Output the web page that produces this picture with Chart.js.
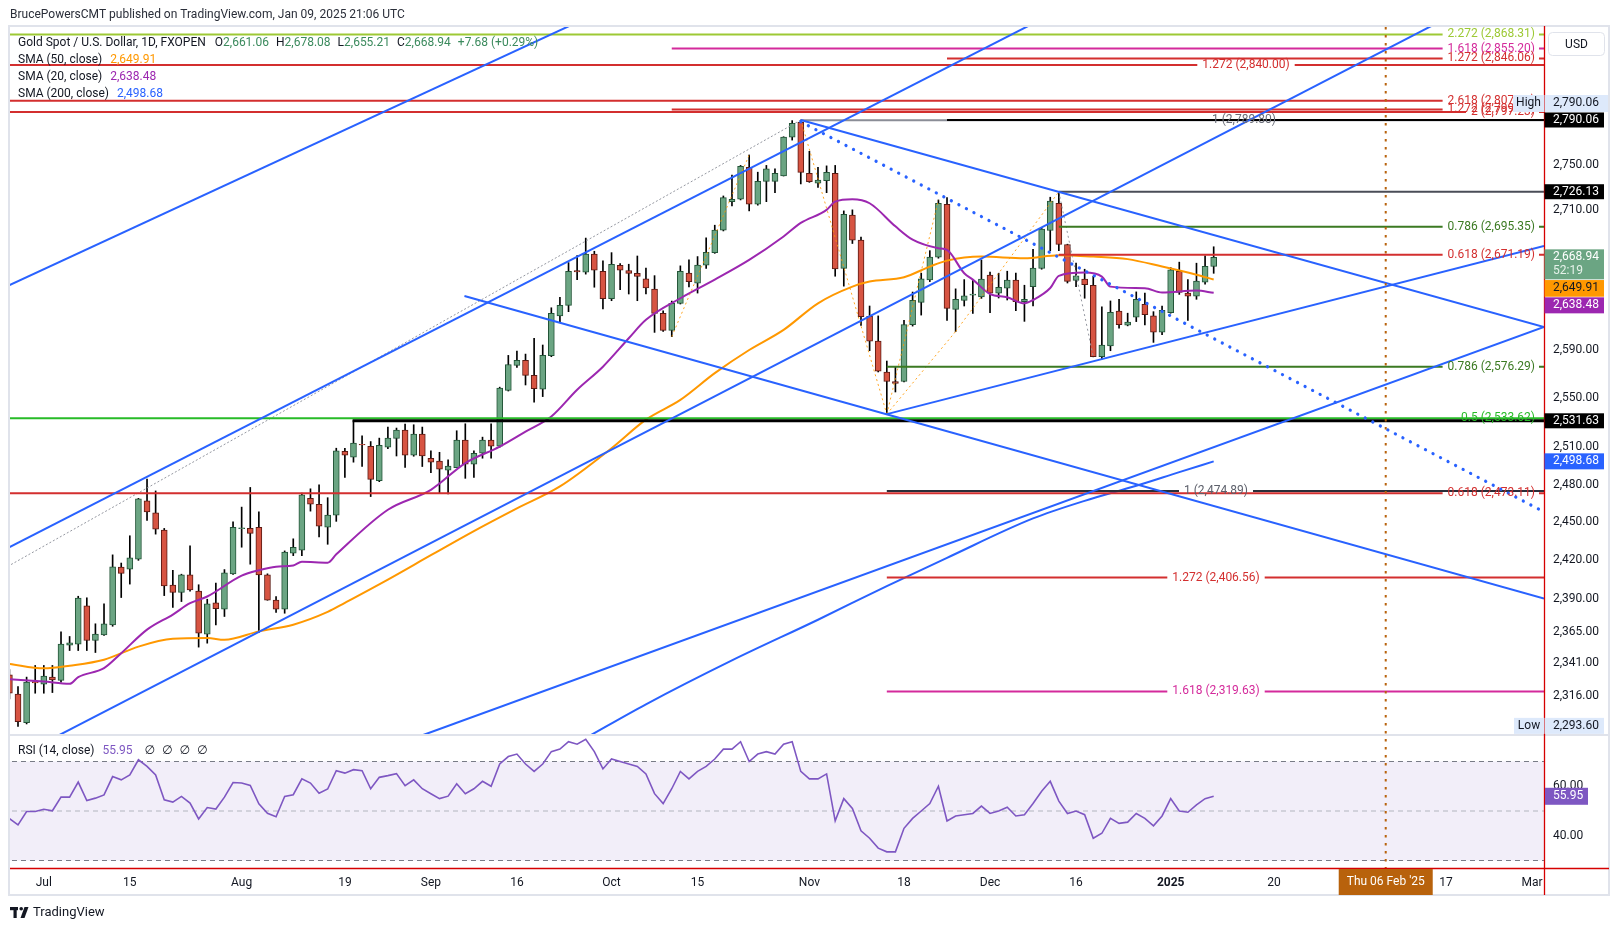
<!DOCTYPE html>
<html>
<head>
<meta charset="utf-8">
<title>Gold Spot / U.S. Dollar</title>
<script src="https://cdn.jsdelivr.net/npm/chart.js@4.4.1/dist/chart.umd.min.js"></script>
<style>
html,body{margin:0;padding:0;background:#ffffff;overflow:hidden;}
#c{display:block;}
</style>
</head>
<body>
<canvas id="c" width="1620" height="931"></canvas>
<script>
// ---------------- DATA ----------------
// bar index 0 = 1 Jul 2024 (trading days only)
const firstBar = -4;
const opens = [2332.1,2317.6,2296.4,2327.0,2325.1,2330.4,2327.9,2354.6,2355.4,2384.7,2358.1,2362.3,2370.0,2414.7,2413.2,2421.0,2466.9,2457.4,2443.8,2400.8,2395.0,2408.7,2396.1,2363.0,2387.0,2382.2,2409.5,2445.0,2445.1,2446.0,2408.7,2389.1,2382.2,2425.6,2428.0,2469.0,2464.3,2446.0,2455.6,2506.8,2502.0,2512.5,2510.9,2483.1,2510.1,2517.2,2524.1,2503.6,2520.8,2501.2,2498.8,2491.6,2493.6,2515.9,2496.4,2505.2,2515.9,2510.9,2556.7,2577.3,2581.5,2569.0,2557.6,2585.4,2619.0,2627.9,2657.5,2656.2,2671.8,2657.0,2633.5,2662.1,2657.6,2655.1,2650.4,2641.8,2621.0,2606.7,2629.6,2655.3,2646.7,2662.2,2673.0,2692.5,2717.4,2719.5,2747.6,2715.1,2735.2,2735.2,2740.2,2774.6,2788.0,2742.3,2733.7,2735.8,2742.3,2659.5,2705.6,2683.8,2618.6,2597.7,2571.7,2564.0,2564.0,2611.5,2630.4,2649.5,2669.1,2715.1,2624.5,2632.1,2636.5,2635.1,2653.6,2638.2,2642.4,2649.3,2631.0,2643.8,2659.3,2692.2,2716.0,2680.0,2649.2,2650.2,2645.0,2584.7,2593.6,2622.9,2611.0,2617.8,2628.8,2618.9,2605.2,2621.7,2657.0,2638.2,2635.6,2647.6,2661.06];
const highs = [2336.0,2323.3,2330.4,2339.2,2339.2,2339.2,2364.8,2361.2,2392.1,2390.9,2370.9,2386.2,2424.3,2417.9,2439.3,2469.0,2484.3,2474.9,2445.1,2412.3,2409.2,2431.4,2401.0,2389.8,2402.3,2412.8,2450.3,2462.0,2477.7,2458.2,2409.5,2391.9,2427.4,2436.9,2473.1,2476.6,2479.8,2469.5,2509.3,2509.3,2531.9,2519.4,2514.7,2517.5,2526.5,2525.7,2529.0,2528.4,2526.5,2507.1,2506.0,2499.8,2523.5,2529.2,2507.1,2518.3,2529.2,2559.3,2585.7,2589.4,2586.8,2600.1,2594.4,2625.8,2634.7,2664.4,2670.4,2685.6,2674.2,2665.9,2673.0,2663.6,2663.0,2670.1,2659.6,2653.2,2623.3,2631.5,2661.6,2666.7,2669.6,2685.9,2696.8,2722.4,2740.8,2749.4,2758.7,2743.4,2749.4,2746.4,2775.0,2789.5,2790.06,2762.0,2747.6,2749.0,2749.4,2709.3,2710.2,2686.4,2627.3,2618.9,2581.0,2576.0,2615.2,2639.2,2655.3,2674.7,2718.9,2721.0,2641.9,2649.8,2649.8,2666.7,2656.2,2655.3,2657.0,2655.3,2645.0,2675.9,2694.8,2721.3,2726.13,2680.3,2663.9,2658.7,2652.7,2626.7,2631.6,2633.0,2621.2,2639.3,2638.2,2622.5,2627.3,2660.1,2664.8,2649.8,2663.9,2670.2,2678.08];
const lows = [2314.0,2293.6,2295.4,2318.3,2318.3,2318.8,2326.6,2350.5,2350.5,2350.5,2349.0,2362.0,2369.0,2391.1,2401.5,2420.0,2451.5,2440.6,2392.6,2383.4,2388.0,2396.0,2353.1,2356.1,2370.0,2376.5,2409.0,2430.3,2417.0,2364.3,2389.0,2379.7,2379.0,2423.7,2423.7,2458.8,2438.3,2432.6,2450.7,2485.8,2498.0,2494.5,2470.4,2482.3,2509.0,2503.0,2493.7,2502.8,2494.5,2489.5,2473.1,2472.5,2493.6,2485.0,2485.8,2501.2,2501.2,2510.1,2556.1,2575.7,2561.1,2546.9,2551.5,2584.6,2614.1,2622.5,2649.8,2654.5,2643.3,2624.8,2631.8,2641.2,2637.5,2631.8,2637.5,2605.0,2605.8,2601.4,2629.0,2643.6,2638.3,2659.3,2672.4,2691.8,2713.6,2718.9,2709.3,2714.3,2717.4,2725.3,2740.0,2772.0,2733.0,2734.4,2730.0,2725.3,2652.7,2644.2,2680.9,2610.9,2589.6,2571.9,2537.1,2555.3,2563.7,2610.3,2619.6,2648.1,2668.2,2615.1,2605.7,2627.3,2621.0,2633.8,2621.7,2634.1,2632.4,2623.4,2614.3,2627.3,2658.7,2674.7,2674.7,2646.9,2643.8,2633.9,2584.5,2582.5,2589.6,2608.6,2610.5,2614.1,2611.3,2596.6,2603.1,2621.2,2637.2,2615.0,2633.0,2645.9,2655.21];
const closes = [2318.3,2297.1,2326.6,2326.0,2331.1,2328.2,2355.4,2356.4,2390.6,2358.1,2363.0,2370.9,2415.0,2409.8,2422.0,2468.5,2458.2,2444.5,2400.0,2395.0,2408.7,2396.9,2363.8,2386.2,2382.6,2410.3,2446.0,2445.6,2441.2,2408.7,2389.1,2382.2,2426.4,2430.3,2471.7,2464.3,2446.8,2455.6,2507.1,2503.6,2513.4,2512.0,2484.2,2511.7,2517.5,2524.1,2503.6,2520.8,2503.0,2498.0,2492.4,2494.8,2515.9,2496.4,2505.2,2515.9,2510.9,2558.5,2578.1,2581.5,2569.0,2558.1,2585.7,2621.0,2627.9,2657.0,2656.5,2671.8,2657.9,2633.5,2663.0,2657.9,2655.1,2652.5,2642.7,2621.0,2606.7,2629.6,2657.0,2648.1,2662.2,2673.3,2692.5,2720.9,2719.5,2748.5,2715.1,2735.2,2746.4,2742.3,2774.6,2787.1,2743.2,2734.9,2736.3,2743.2,2659.0,2706.4,2683.8,2618.3,2597.7,2572.5,2564.0,2562.3,2611.5,2632.1,2650.4,2669.1,2716.0,2625.3,2633.0,2636.0,2637.5,2650.2,2638.2,2643.3,2649.3,2631.0,2633.0,2659.6,2693.4,2717.8,2680.0,2648.3,2653.0,2645.5,2584.7,2594.3,2622.0,2611.6,2613.6,2633.0,2620.0,2605.2,2623.7,2658.1,2638.9,2635.6,2648.5,2661.26,2668.94];
const rsiValues = [47.0,44.4,49.8,49.8,50.7,50.1,55.6,55.6,61.7,54.2,55.2,56.5,63.9,62.6,64.6,70.7,68.0,64.6,54.5,53.6,55.9,53.2,46.8,51.4,50.8,55.6,61.5,61.3,60.3,52.9,49.1,47.7,55.9,56.6,63.0,61.3,57.2,58.9,66.3,65.3,66.7,66.3,59.0,63.6,64.3,65.1,60.2,62.6,
59,57,55,56,61,57,59,62,60,69,72,73,69,66,69,74,75,78,77,79,74,67,71,70,69,68,65,57,53,59,66,63,66,68,71,75,75,78,70,73,74,73,77,78,66,63,63,65,46,55,51,42,39,35,33.5,33.5,43,47,50,53,60,46,48,48.5,49,52,49,50,51.5,48,48.5,53,58,62,54,49,50,48.5,39,41,47,45,45.5,49,47,44,48,55,50,49.5,52.5,55,55.95];

const sma20Idx = [-4,0,3,4,7,9,12,15,17,19,23,25,27,29,30,33,34,40,45,49,53,56,59,62,65,68,70,74,78,82,86,88,91,92,94,96,99,101,104,105,107,108,110,112,114,115,117,118,121,123,124,128,130,134,136];
const sma20Val = [2328.9,2327.1,2325.4,2330.4,2337.2,2348.5,2366.4,2378,2386.7,2391.9,2408.1,2412.3,2415,2416,2418.9,2418.2,2424.7,2459.9,2475.8,2497.3,2510.6,2522.8,2535.2,2557.2,2576.3,2600.1,2615.6,2633.9,2649.8,2666.7,2687,2698.8,2710.2,2717.4,2719.5,2716,2695.8,2684.2,2676.8,2675.3,2655.3,2649.8,2637.5,2634.7,2629.6,2632.4,2642.6,2653,2655.8,2652.4,2643.8,2642.4,2638.7,2640.4,2638.48];
const sma50Idx = [-4,0,3,7,11,15,19,21,25,29,33,35,40,45,50,55,60,66,70,74,78,82,86,90,94,96,100,103,105,109,114,118,122,126,130,134,136];
const sma50Val = [2340.4,2337,2339,2343.5,2353.5,2359.4,2360,2358.7,2365.1,2370.2,2380,2387,2405,2424,2443,2461,2478.5,2509.3,2532.6,2548.8,2570.9,2590.2,2607.1,2629.6,2643.8,2648.1,2651.9,2661,2666.1,2669.6,2668.2,2670.8,2669.6,2667.4,2661,2654,2649.91];
const sma200Idx = [63,70,80,90,98,105,115,121,127,132,136];
const sma200Val = [2285,2310,2343,2374,2400,2422,2453,2467,2479,2490,2498.68];

// Drawn trend lines: [bar index, price] at both ends
const trendX1 = [-3.98,-3.98,-3.98,48.9,44.1,88,98];
const trendP1 = [2645.1,2430.3,2268.3,2635.8,2287.2,2790.06,2537.1];
const trendX2 = [66.95,122.8,169.3,174.4,174.4,174.4,174.4];
const trendP2 = [2897.9,2910.5,2909.3,2390.3,2609.6,2609.6,2678.8];
const dottedX = [88,174.4], dottedP = [2788.5,2458.2];
const fibConnX = [-4.21,88], fibConnP = [2415.2,2790.06];
const zigX1 = [73,88,98,98,106], zigP1 = [2601.4,2790.06,2537.1,2537.1,2605.7];
const zigX2 = [82,98,104,106,118], zigP2 = [2758.7,2537.1,2718.9,2605.7,2726.13];
const grayZigX = [118,122], grayZigP = [2726.13,2584.5];

// Fibonacci levels
const fibValues = [2868.31,2855.20,2846.06,2840.00,2807.38,2799.60,2797.23,2789.80,2695.35,2671.19,2576.29,2533.62,2474.89,2473.11,2406.56,2319.63];
const fibLabels = ['2.272 (2,868.31)','1.618 (2,855.20)','1.272 (2,846.06)','1.272 (2,840.00)','2.618 (2,807.38)','1.272 (2,799.60)','2 (2,797.23)','1 (2,789.80)','0.786 (2,695.35)','0.618 (2,671.19)','0.786 (2,576.29)','0.5 (2,533.62)','1 (2,474.89)','0.618 (2,473.11)','1.272 (2,406.56)','1.618 (2,319.63)'];
const fibStartIdx = [-10,73,105,-10,-10,73,-10,88,118,118,98,-10,98,-10,98,98];
// plain horizontal levels
const levelValues = [2790.06,2726.13,2531.63];
const levelStartIdx = [105,118,35.9];

const xTickIdx = [0,10,23,35,45,55,66,76,89,100,110,120,131,143,163,173];
const xTickLabels = ['Jul','15','Aug','19','Sep','16','Oct','15','Nov','18','Dec','16','2025','20','17','Mar'];
const priceTicks = [2750,2710,2590,2550,2510,2480,2450,2420,2390,2365,2341,2316];
const rsiTicks = [60,40];
const markerIdx = 156, markerLabel = "Thu 06 Feb '25";

// ---------------- STYLE ----------------
const FONT = "Roboto, 'Liberation Sans', 'DejaVu Sans', sans-serif";
const F12 = '12px ' + FONT;
Chart.defaults.font.family = FONT;
Chart.defaults.font.size = 12;
Chart.defaults.color = '#131722';
const X_MIN = -3.93, X_MAX = 174.4;
const PRICE_MIN = 2191.0, PRICE_MAX = 2876.1;
const RSI_MIN = 26.97, RSI_MAX = 367.2;
const UP = '#6ba583', UP_B = '#225437', DN = '#d75442', DN_B = '#5b1a13';
const BLUE = '#2962ff', RED = '#d32f2f', MAG = '#d42a9b', LIME = '#9dc935', DKGREEN = '#3b7a22', GREEN = '#27bb27', DARK = '#131722';
const LABEL_RIGHT = 1535;
const fibStyle = [
  {c:LIME},{c:MAG},{c:RED},{c:RED,center:1246},{c:RED},{c:RED},{c:RED},
  {c:'#6a6d78',line:'#8a8d96',center:1244,noGap:true},
  {c:DKGREEN},{c:RED},{c:DKGREEN},{c:GREEN,noGap:true},
  {c:'#5d606b',line:'#2a2e39',center:1216},{c:RED},{c:RED,center:1216},{c:MAG,center:1216}
];
const levelStyle = [{c:'#000000',w:2},{c:'#4a4d57',w:2},{c:'#000000',w:3}];

const PRICE_CLIP = {left:0, top:0, right:0, bottom:-133};
const RSI_CLIP = {left:0, top:-709, right:0, bottom:0};

const barX = k => firstBar + k;
const isUp = k => closes[k] >= opens[k];
const fmt = v => v.toLocaleString('en-US',{minimumFractionDigits:2, maximumFractionDigits:2});
const mctx = document.createElement('canvas').getContext('2d');
mctx.font = F12;
const pxToIdx = px => X_MIN + (px - 10) * (X_MAX - X_MIN) / 1534;

function lineDS(data, color, width, extra) {
  return Object.assign({type:'line', data, borderColor:color, borderWidth:width, pointRadius:0, fill:false,
    yAxisID:'y', clip:PRICE_CLIP, order:20, tension:0, spanGaps:false}, extra || {});
}
function rsiDS(data, color, width, extra) {
  return Object.assign({type:'line', data, borderColor:color, borderWidth:width, pointRadius:0, fill:false,
    yAxisID:'yRsi', clip:RSI_CLIP, order:70, tension:0}, extra || {});
}
function fibData(k) {
  const p = fibValues[k], st = fibStyle[k];
  const w = mctx.measureText(fibLabels[k]).width;
  const pts = [{x:fibStartIdx[k], y:p}];
  if (!st.noGap) {
    let l, r;
    if (st.center != null) { l = st.center - w/2 - 5; r = st.center + w/2 + 5; }
    else { l = LABEL_RIGHT - w - 5; r = LABEL_RIGHT + 4; }
    pts.push({x:pxToIdx(l), y:p}, {x:pxToIdx(l), y:null}, {x:pxToIdx(r), y:p});
  }
  pts.push({x:X_MAX + 2, y:p});
  return pts;
}

const datasets = [];
// RSI pane
datasets.push(rsiDS([{x:X_MIN-5,y:70},{x:X_MAX+5,y:70}], '#787b86', 1, {borderDash:[5,4], fill:{value:30}, backgroundColor:'rgba(126,87,194,0.1)', order:80}));
datasets.push(rsiDS([{x:X_MIN-5,y:30},{x:X_MAX+5,y:30}], '#787b86', 1, {borderDash:[5,4], order:79}));
datasets.push(rsiDS([{x:X_MIN-5,y:50},{x:X_MAX+5,y:50}], '#b2b5be', 1, {borderDash:[5,4], order:78}));
datasets.push(rsiDS(rsiValues.map((v,k)=>({x:barX(k), y:v})), '#7e57c2', 1.6, {order:70}));
// candles
datasets.push({type:'bar', yAxisID:'y', data:lows.map((l,k)=>({x:barX(k), y:[l, highs[k]]})), backgroundColor:'#000000', borderWidth:0, barThickness:1, grouped:false, clip:PRICE_CLIP, order:60});
datasets.push({type:'bar', yAxisID:'y', data:opens.map((o,k)=>({x:barX(k), y:[o, closes[k]]})),
  backgroundColor:c => isUp(c.dataIndex) ? UP : DN, borderColor:c => isUp(c.dataIndex) ? UP_B : DN_B,
  borderWidth:1, borderSkipped:false, barThickness:6, grouped:false, clip:PRICE_CLIP, order:59});
// moving averages
const pts = (I,V) => I.map((x,k)=>({x, y:V[k]}));
datasets.push(lineDS(pts(sma200Idx,sma200Val), BLUE, 2, {order:42, cubicInterpolationMode:'monotone'}));
datasets.push(lineDS(pts(sma50Idx,sma50Val), '#ff9800', 2, {order:41, cubicInterpolationMode:'monotone'}));
datasets.push(lineDS(pts(sma20Idx,sma20Val), '#9c27b0', 2, {order:40, cubicInterpolationMode:'monotone'}));
// fib + horizontal levels
fibValues.forEach((p,k)=>{ datasets.push(lineDS(fibData(k), fibStyle[k].line || fibStyle[k].c, 2, {order:25})); });
levelValues.forEach((p,k)=>{ datasets.push(lineDS([{x:levelStartIdx[k],y:p},{x:X_MAX+2,y:p}], levelStyle[k].c, levelStyle[k].w, {order:24})); });
// dotted helper lines
datasets.push(lineDS(pts(fibConnX,fibConnP), '#9598a1', 1, {borderDash:[2,2], order:30}));
zigX1.forEach((x,k)=>{ datasets.push(lineDS([{x,y:zigP1[k]},{x:zigX2[k],y:zigP2[k]}], 'rgba(255,152,0,0.85)', 1, {borderDash:[2,3], order:30})); });
datasets.push(lineDS(pts(grayZigX,grayZigP), '#9598a1', 1, {borderDash:[2,3], order:30}));
// blue trend lines
trendX1.forEach((x,k)=>{ datasets.push(lineDS([{x,y:trendP1[k]},{x:trendX2[k],y:trendP2[k]}], BLUE, 2, {order:15})); });
datasets.push(lineDS(pts(dottedX,dottedP), BLUE, 3.2, {borderDash:[0.1,8.4], borderCapStyle:'round', order:15}));
// vertical date marker
datasets.push({type:'line', yAxisID:'y', data:[{x:markerIdx,y:PRICE_MAX*1.05},{x:markerIdx,y:PRICE_MIN*0.95}], borderColor:'#b8620c', borderWidth:2, borderDash:[2.5,5.5], pointRadius:0, fill:false, order:10});

// ---------------- OVERLAY PLUGIN ----------------
function runs(c, x, y, list) {
  list.forEach(([t, col, gap]) => { c.fillStyle = col; c.fillText(t, x, y); x += c.measureText(t).width + (gap || 0); });
}
function axisBox(c, top, bottom, bg, fg, texts, x1) {
  c.fillStyle = bg; c.fillRect(1544.5, top, (x1 || 1604) - 1544.5, bottom - top);
  c.fillStyle = fg; c.textAlign = 'left'; c.textBaseline = 'middle';
  texts.forEach(([t, y, col]) => { c.fillStyle = col || fg; c.fillText(t, 1553, y); });
}
const overlay = {
  id:'overlay',
  beforeDraw(chart) { const c = chart.ctx; c.save(); c.fillStyle = '#ffffff'; c.fillRect(0,0,chart.width,chart.height); c.restore(); },
  afterDraw(chart) {
    const c = chart.ctx, xs = chart.scales.x, ys = chart.scales.y, rs = chart.scales.yRsi, ca = chart.chartArea;
    c.save();
    c.font = F12; c.textBaseline = 'middle';
    // fib labels
    fibValues.forEach((p,k)=>{
      const st = fibStyle[k], y = ys.getPixelForValue(p);
      c.fillStyle = st.c;
      if (st.center != null) { c.textAlign = 'center'; c.fillText(fibLabels[k], st.center, y); }
      else { c.textAlign = 'right'; c.fillText(fibLabels[k], LABEL_RIGHT, y); }
    });
    c.textAlign = 'left';
    // pane separator & frame
    c.fillStyle = '#e0e3eb'; c.fillRect(ca.left, 734, 1610 - ca.left, 2);
    c.strokeStyle = '#e0e3eb'; c.lineWidth = 2; c.strokeRect(9, 26, 1600, 869);
    // red axis borders
    c.strokeStyle = '#d50000'; c.lineWidth = 1.3;
    c.beginPath(); c.moveTo(ca.right + 0.5, 26); c.lineTo(ca.right + 0.5, 895); c.stroke();
    c.beginPath(); c.moveTo(ca.left, ca.bottom + 0.5); c.lineTo(1609, ca.bottom + 0.5); c.stroke();
    // header
    c.fillStyle = '#2a2e39'; c.fillText('BrucePowersCMT published on TradingView.com, Jan 09, 2025 21:06 UTC', 10, 15);
    // legend
    const L = opens.length - 1, G = '#3b8a5d';
    const chg = closes[L] - closes[L-1];
    runs(c, 18, 42.5, [['Gold Spot / U.S. Dollar, 1D, FXOPEN', DARK, 9], ['O', DARK], [fmt(opens[L]), G, 7], ['H', DARK], [fmt(highs[L]), G, 7], ['L', DARK], [fmt(lows[L]), G, 7], ['C', DARK], [fmt(closes[L]), G, 7], ['+' + chg.toFixed(2) + ' (+' + (chg / closes[L-1] * 100).toFixed(2) + '%)', G]]);
    runs(c, 18, 60, [['SMA (50, close)', DARK, 8], [fmt(sma50Val[sma50Val.length-1]), '#ff9800']]);
    runs(c, 18, 77, [['SMA (20, close)', DARK, 8], [fmt(sma20Val[sma20Val.length-1]), '#9c27b0']]);
    runs(c, 18, 94, [['SMA (200, close)', DARK, 8], [fmt(sma200Val[sma200Val.length-1]), BLUE]]);
    runs(c, 18, 750.5, [['RSI (14, close)', DARK, 8], [rsiValues[rsiValues.length-1].toFixed(2), '#7e57c2', 12], ['\u2205', DARK, 7], ['\u2205', DARK, 7], ['\u2205', DARK, 7], ['\u2205', DARK]]);
    // USD box
    c.fillStyle = '#ffffff'; c.strokeStyle = '#e0e3eb'; c.lineWidth = 1;
    c.beginPath(); c.roundRect(1548.5, 32.5, 56, 23, 4); c.fill(); c.stroke();
    c.fillStyle = DARK; c.textAlign = 'center'; c.fillText('USD', 1576.5, 44.5); c.textAlign = 'left';
    // price axis boxes
    const yH = ys.getPixelForValue(levelValues[0]);
    axisBox(c, yH - 25, yH - 8, '#dde9fb', DARK, [[fmt(levelValues[0]), yH - 16.5]], 1608);
    c.fillStyle = '#dde9fb'; c.fillRect(1513, yH - 25, 31, 17); c.fillStyle = DARK; c.textAlign = 'center'; c.fillText('High', 1528.5, yH - 16.5); c.textAlign = 'left';
    axisBox(c, yH - 7.5, yH + 7.5, '#000000', '#ffffff', [[fmt(levelValues[0]), yH]]);
    const y26 = ys.getPixelForValue(levelValues[1]);
    axisBox(c, y26 - 7.5, y26 + 7.5, '#000000', '#ffffff', [[fmt(levelValues[1]), y26]]);
    const yC = ys.getPixelForValue(closes[L]);
    axisBox(c, yC - 8, yC + 22, UP, '#ffffff', [[fmt(closes[L]), yC], ['52:19', yC + 14, '#e6f2ea']]);
    let yO = ys.getPixelForValue(sma50Val[sma50Val.length-1]); let oTop = Math.max(yO - 8, yC + 22.7);
    axisBox(c, oTop, oTop + 16.7, '#ff9800', DARK, [[fmt(sma50Val[sma50Val.length-1]), oTop + 8.4]]);
    let yP = ys.getPixelForValue(sma20Val[sma20Val.length-1]); let pTop = Math.max(yP - 8, oTop + 17.3);
    axisBox(c, pTop, pTop + 16, '#9c27b0', '#ffffff', [[fmt(sma20Val[sma20Val.length-1]), pTop + 8]]);
    const y53 = ys.getPixelForValue(levelValues[2]);
    axisBox(c, y53 - 7.5, y53 + 7.5, '#000000', '#ffffff', [[fmt(levelValues[2]), y53]]);
    const yS = ys.getPixelForValue(sma200Val[sma200Val.length-1]);
    axisBox(c, yS - 8, yS + 8, BLUE, '#ffffff', [[fmt(sma200Val[sma200Val.length-1]), yS]]);
    const lowV = Math.min(...lows), yLw = ys.getPixelForValue(lowV);
    axisBox(c, yLw - 8.5, yLw + 7.5, '#dde9fb', DARK, [[fmt(lowV), yLw]], 1604);
    c.fillStyle = '#dde9fb'; c.fillRect(1514, yLw - 8.5, 30, 16); c.fillStyle = DARK; c.textAlign = 'center'; c.fillText('Low', 1529, yLw); c.textAlign = 'left';
    // RSI axis
    c.fillStyle = DARK;
    rsiTicks.forEach(v => { c.fillText(fmt(v), 1553, rs.getPixelForValue(v)); });
    const rv = rsiValues[rsiValues.length-1], yR = rs.getPixelForValue(rv);
    c.fillStyle = '#7e57c2'; c.fillRect(1545, yR - 8.5, 43, 17);
    c.fillStyle = '#ffffff'; c.fillText(rv.toFixed(2), 1553, yR);
    // date marker box
    const xm = xs.getPixelForValue(markerIdx);
    c.fillStyle = '#b8620c'; c.fillRect(xm - 47, ca.bottom + 1, 94, 26);
    c.fillStyle = '#ffffff'; c.textAlign = 'center'; c.fillText(markerLabel, xm, ca.bottom + 14); c.textAlign = 'left';
    // TradingView logo
    c.fillStyle = DARK;
    c.fillRect(10, 907, 8, 3.2); c.fillRect(13.5, 907, 3.2, 11);
    c.beginPath(); c.arc(21.2, 908.8, 1.8, 0, Math.PI*2); c.fill();
    c.beginPath(); c.moveTo(24.5, 907); c.lineTo(28.5, 907); c.lineTo(24.5, 918); c.lineTo(20.5, 918); c.closePath(); c.fill();
    c.font = '13px ' + FONT; c.fillText('TradingView', 33, 913);
    c.restore();
  }
};

new Chart(document.getElementById('c'), {
  type:'bar',
  data:{datasets},
  options:{
    responsive:false, animation:false, devicePixelRatio:1, events:[],
    layout:{padding:{left:10, top:26, right:10, bottom:36}},
    plugins:{legend:{display:false}, tooltip:{enabled:false}},
    scales:{
      x:{type:'linear', axis:'x', position:'bottom', min:X_MIN, max:X_MAX, offset:false,
        grid:{display:false, drawTicks:false}, border:{display:false},
        afterBuildTicks:s => { s.ticks = xTickIdx.map(v => ({value:v})); },
        afterFit:s => { s.height = 27; },
        ticks:{padding:8, autoSkip:false, maxRotation:0, color:DARK,
          font:c => ({family:FONT, size:12, weight:(c.tick && c.tick.value === 131) ? 'bold' : 'normal'}),
          callback:v => { const k = xTickIdx.indexOf(v); return k >= 0 ? xTickLabels[k] : ''; }}},
      y:{type:'logarithmic', axis:'y', position:'right', min:PRICE_MIN, max:PRICE_MAX,
        grid:{display:false, drawTicks:false}, border:{display:false},
        afterBuildTicks:s => { s.ticks = priceTicks.map(v => ({value:v})); },
        afterFit:s => { s.width = 66; },
        ticks:{padding:9, autoSkip:false, color:DARK, font:{family:FONT, size:12}, callback:v => fmt(v)}},
      yRsi:{type:'linear', axis:'y', position:'right', display:true, min:RSI_MIN, max:RSI_MAX,
        grid:{display:false, drawTicks:false}, border:{display:false},
        ticks:{display:false}, afterFit:s => { s.width = 0; }}
    }
  },
  plugins:[overlay]
});
</script>
</body>
</html>
